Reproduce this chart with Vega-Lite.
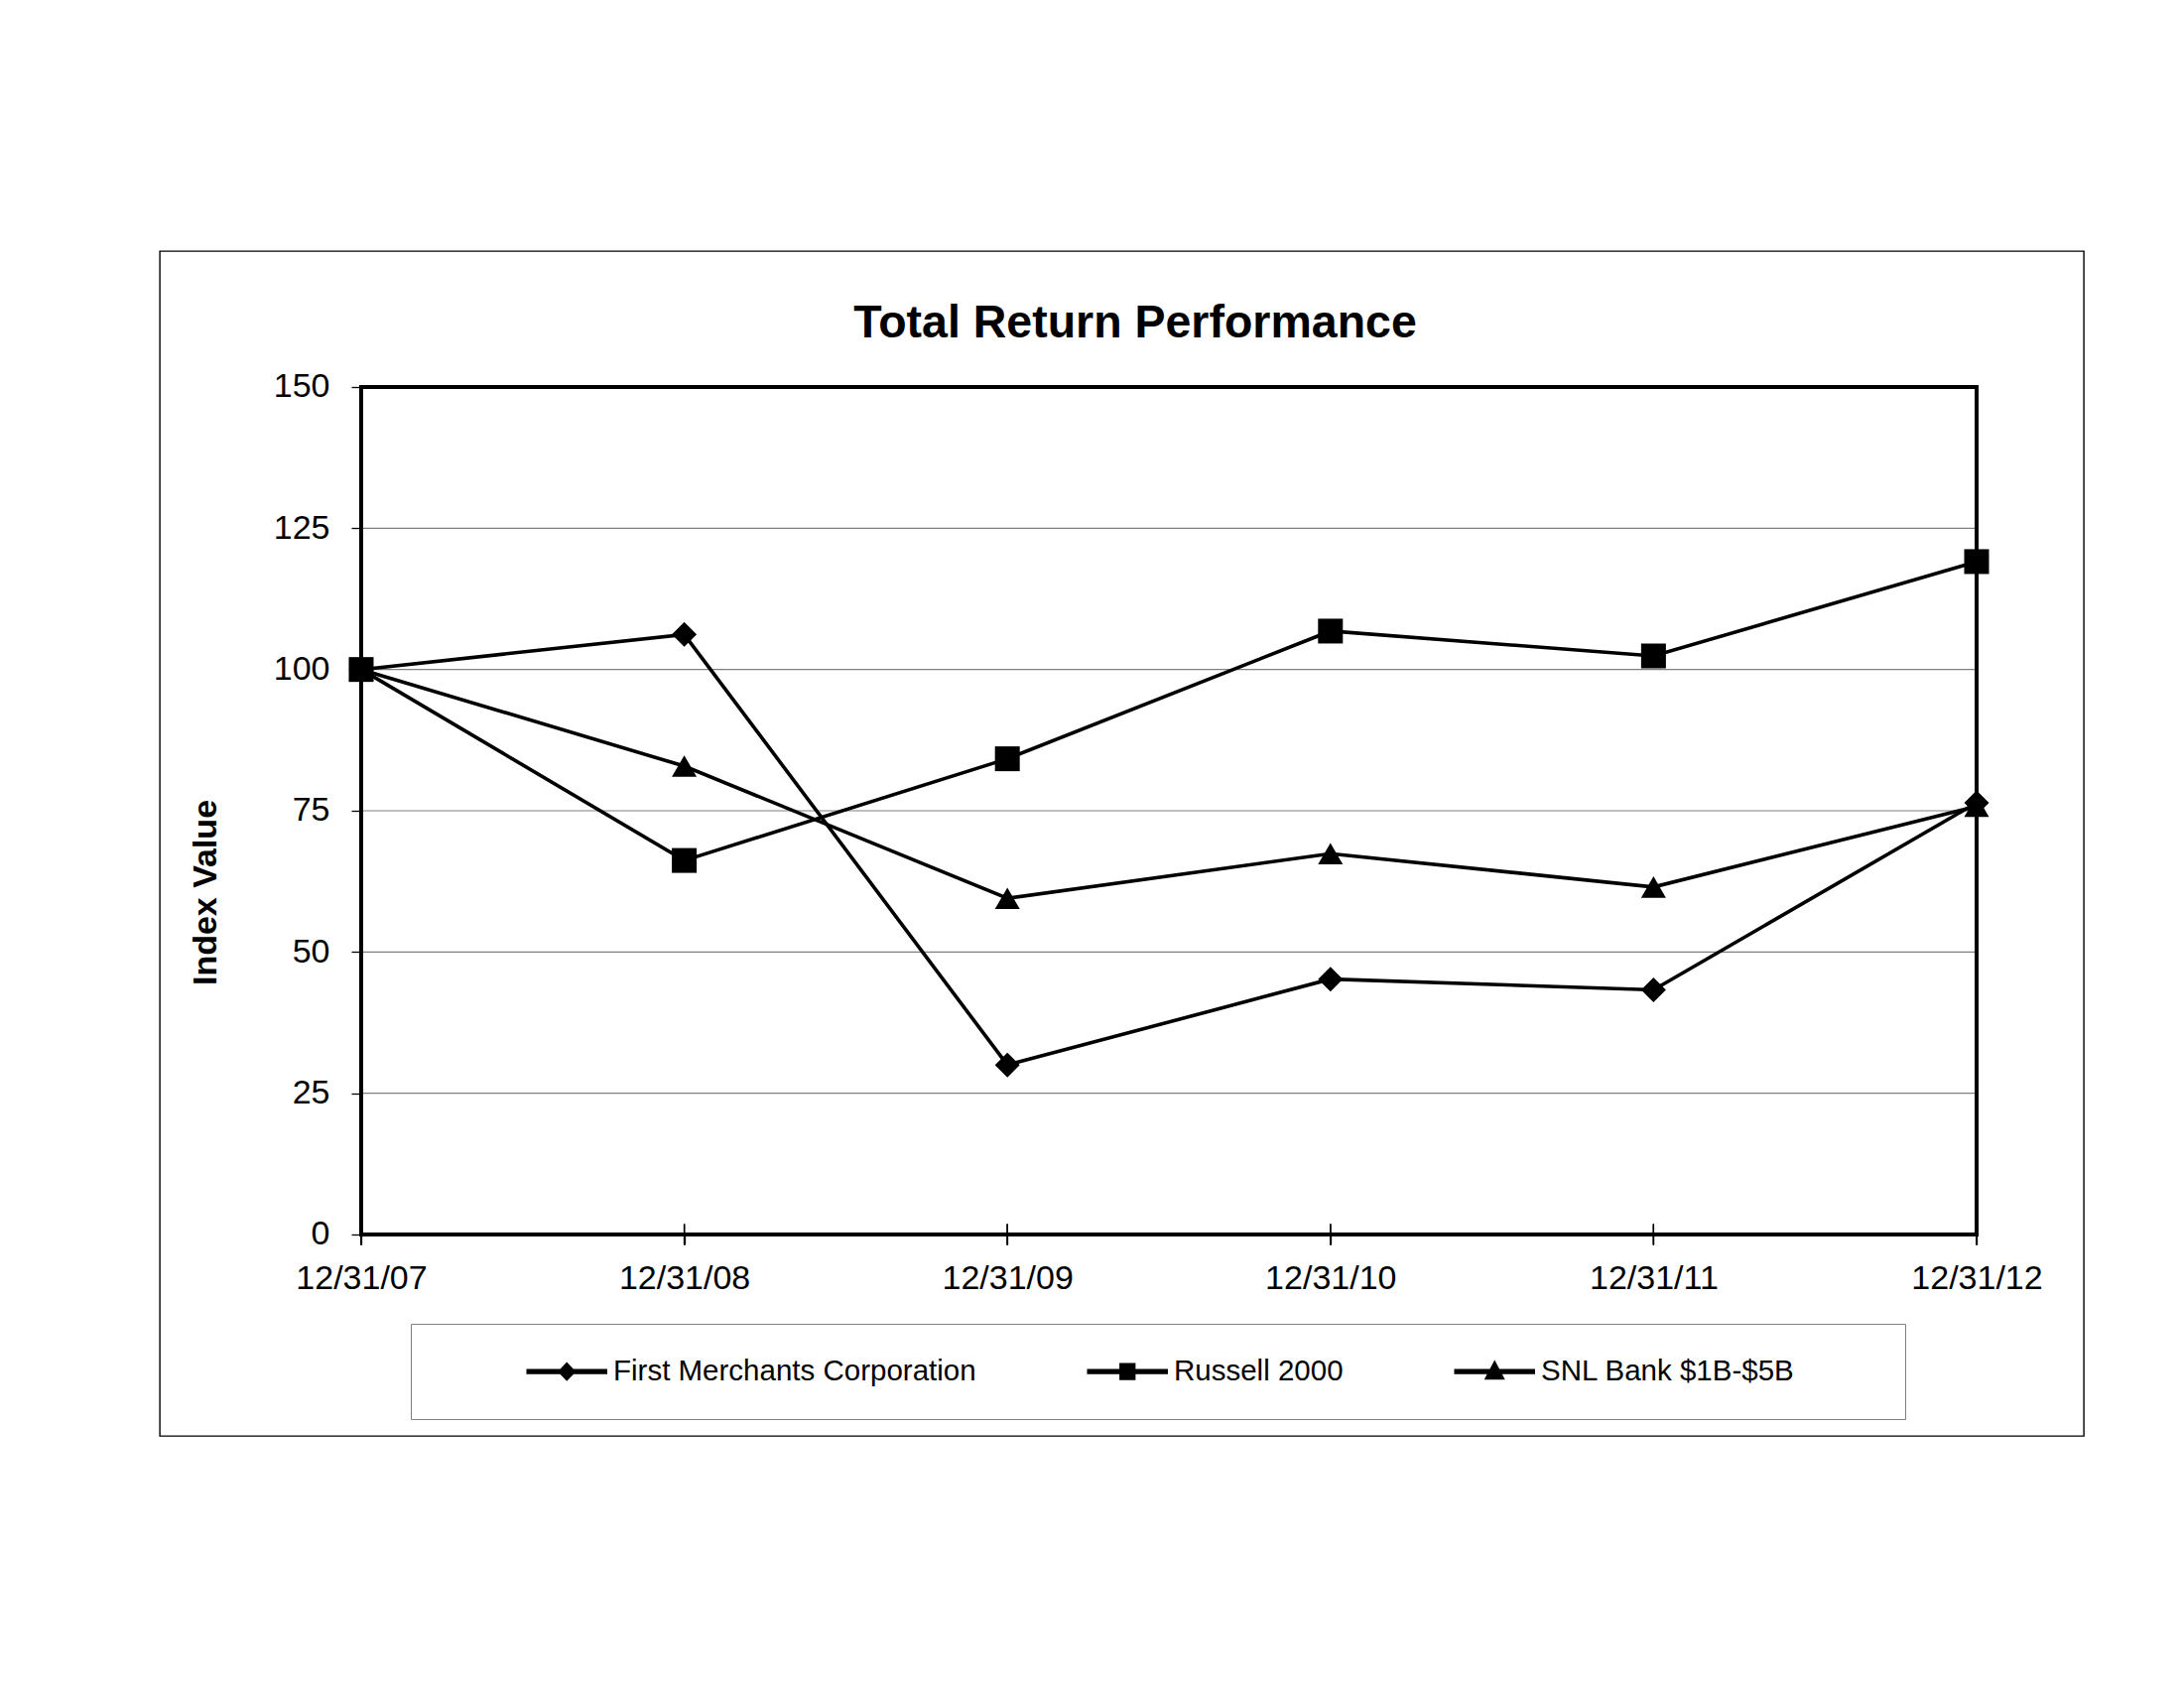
{
  "$schema": "https://vega.github.io/schema/vega-lite/v6.json",
  "width": 1939,
  "height": 1194,
  "autosize": {"type": "none"},
  "padding": {"left": 161, "top": 253, "right": 101, "bottom": 254},
  "background": "white",
  "config": {
    "font": "Liberation Sans",
    "view": {"stroke": "black", "strokeWidth": 1.4}
  },
  "title": {
    "text": "Total Return Performance",
    "fontSize": 46.5,
    "fontWeight": "bold",
    "color": "black",
    "anchor": "middle",
    "frame": "group",
    "baseline": "alphabetic",
    "offset": -133,
    "dx": 13.5
  },
  "data": {
    "values": [
      {"date": "12/31/07", "series": "First Merchants Corporation", "value": 100},
      {"date": "12/31/08", "series": "First Merchants Corporation", "value": 106.2},
      {"date": "12/31/09", "series": "First Merchants Corporation", "value": 30.0},
      {"date": "12/31/10", "series": "First Merchants Corporation", "value": 45.2},
      {"date": "12/31/11", "series": "First Merchants Corporation", "value": 43.3},
      {"date": "12/31/12", "series": "First Merchants Corporation", "value": 76.4},
      {"date": "12/31/07", "series": "Russell 2000", "value": 100},
      {"date": "12/31/08", "series": "Russell 2000", "value": 66.2},
      {"date": "12/31/09", "series": "Russell 2000", "value": 84.2},
      {"date": "12/31/10", "series": "Russell 2000", "value": 106.8},
      {"date": "12/31/11", "series": "Russell 2000", "value": 102.4},
      {"date": "12/31/12", "series": "Russell 2000", "value": 119.1},
      {"date": "12/31/07", "series": "SNL Bank $1B-$5B", "value": 100},
      {"date": "12/31/08", "series": "SNL Bank $1B-$5B", "value": 82.9},
      {"date": "12/31/09", "series": "SNL Bank $1B-$5B", "value": 59.5},
      {"date": "12/31/10", "series": "SNL Bank $1B-$5B", "value": 67.4},
      {"date": "12/31/11", "series": "SNL Bank $1B-$5B", "value": 61.5},
      {"date": "12/31/12", "series": "SNL Bank $1B-$5B", "value": 75.8}
    ]
  },
  "layer": [
    {
      "data": {"values": [{"g": 25}, {"g": 50}, {"g": 75}, {"g": 100}, {"g": 125}]},
      "mark": {"type": "rule", "color": "#808080", "strokeWidth": 1.2},
      "encoding": {
        "y": {
          "field": "g",
          "type": "quantitative",
          "scale": {"domain": [-35.656, 174.063], "nice": false, "zero": false},
          "axis": {
            "orient": "left",
            "offset": -203,
            "values": [0, 25, 50, 75, 100, 125, 150],
            "domain": false,
            "grid": false,
            "tickColor": "black",
            "tickSize": 10,
            "tickWidth": 1.3,
            "labelFontSize": 34,
            "labelColor": "black",
            "labelPadding": 22,
            "labelAlign": "right",
            "labelBaseline": "middle",
            "labelOverlap": false,
            "labelFlush": false,
            "title": "Index Value",
            "titleFontSize": 34,
            "titleFontWeight": "bold",
            "titleColor": "black",
            "titleAngle": 270,
            "titleX": -147,
            "titleY": 646,
            "titleBaseline": "alphabetic",
            "titleAlign": "center"
          }
        },
        "x": {
          "datum": "12/31/07",
          "type": "nominal",
          "scale": {
            "type": "point",
            "domain": ["12/31/07", "12/31/08", "12/31/09", "12/31/10", "12/31/11", "12/31/12"],
            "padding": 0.4776,
            "align": 0.6527
          },
          "axis": {
            "orient": "bottom",
            "offset": -203,
            "domain": false,
            "grid": false,
            "tickColor": "black",
            "tickSize": 10,
            "tickWidth": 1.3,
            "labelFontSize": 34,
            "labelColor": "black",
            "labelPadding": 17,
            "labelAngle": 0,
            "labelAlign": "center",
            "labelBaseline": "top",
            "labelOverlap": false,
            "title": null
          }
        },
        "x2": {"datum": "12/31/12"}
      }
    },
    {
      "data": {"values": [{"f": 1}]},
      "mark": {"type": "rect", "fillOpacity": 0, "fill": "white", "stroke": "black", "strokeWidth": 4},
      "encoding": {
        "x": {"datum": "12/31/07", "type": "nominal"},
        "x2": {"datum": "12/31/12"},
        "y": {"datum": 0, "type": "quantitative"},
        "y2": {"datum": 150}
      }
    },
    {
      "mark": {"type": "tick", "orient": "vertical", "size": 21, "thickness": 1.3, "color": "black", "opacity": 1},
      "encoding": {
        "x": {"field": "date", "type": "nominal"},
        "y": {"datum": 0, "type": "quantitative"}
      }
    },
    {
      "mark": {"type": "line", "strokeWidth": 3.6},
      "encoding": {
        "x": {"field": "date", "type": "nominal"},
        "y": {"field": "value", "type": "quantitative"},
        "color": {
          "field": "series",
          "type": "nominal",
          "scale": {
            "domain": ["First Merchants Corporation", "Russell 2000", "SNL Bank $1B-$5B"],
            "range": ["black", "black", "black"]
          },
          "legend": {
            "orient": "none",
            "legendX": 253,
            "legendY": 1081,
            "direction": "horizontal",
            "columns": 3,
            "title": null,
            "labelFontSize": 29.5,
            "labelColor": "black",
            "labelLimit": 1000,
            "symbolSize": 256,
            "symbolStrokeWidth": 3.5,
            "symbolStrokeColor": "black",
            "symbolFillColor": "black",
            "symbolOpacity": 1,
            "symbolOffset": 109.5,
            "labelOffset": 32,
            "columnPadding": 28,
            "padding": 33,
            "strokeColor": "#808080",
            "fillColor": "white",
            "symbolType": {"expr": "datum.value === 'First Merchants Corporation' ? 'M-4.875,-0.12H4.875V0.12H-4.875ZM-0.85,0L0,-0.9L0.85,0L0,0.9Z' : datum.value === 'Russell 2000' ? 'M-4.875,-0.12H4.875V0.12H-4.875ZM-0.8,-0.85H0.8V0.85H-0.8Z' : 'M46.6,0L46.6,0M-4.875,-0.12H4.875V0.12H-4.875ZM0,-1L0.95,0.8H-0.95Z'"}
          }
        }
      }
    },
    {
      "mark": {"type": "point", "filled": true, "opacity": 1, "size": 625, "color": "black"},
      "encoding": {
        "x": {"field": "date", "type": "nominal"},
        "y": {"field": "value", "type": "quantitative"},
        "shape": {
          "field": "series",
          "type": "nominal",
          "scale": {
            "domain": ["Russell 2000", "First Merchants Corporation", "SNL Bank $1B-$5B"],
            "range": ["square", "diamond", "triangle-up"]
          },
          "legend": null
        }
      }
    }
  ]
}
